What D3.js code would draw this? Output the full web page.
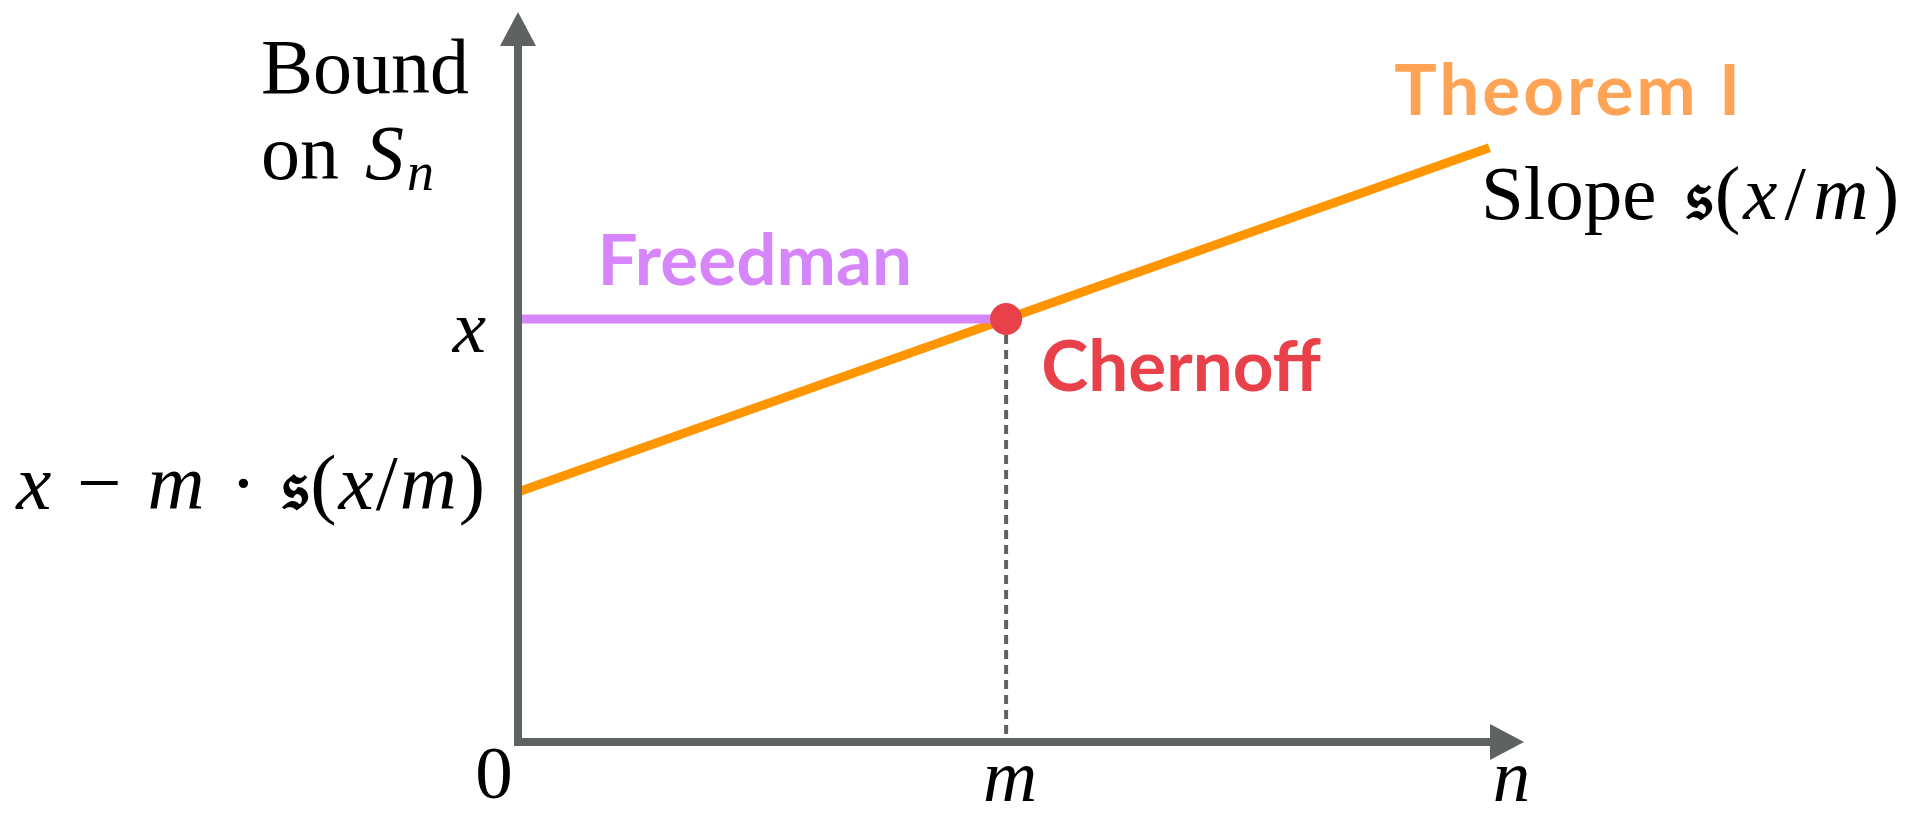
<!DOCTYPE html>
<html>
<head>
<meta charset="utf-8">
<script src="https://cdn.jsdelivr.net/npm/d3@7"></script>
<style>
  html, body { margin: 0; padding: 0; background: #ffffff; overflow: hidden; }
  svg { display: block; }
</style>
</head>
<body>
<svg id="chart" width="1912" height="819"></svg>
<script>
// Quantities are expressed in units where m = 1 and x = 1.
const nExtent = [0, 2.061];          // horizontal axis: number of terms n
const boundExtent = [0, 1.726];      // vertical axis: bound on S_n

const nTickValues = [0, 1, 2.027];
const nTickLabels = ["0", "m", "n"];

const boundTickValues = [1, 0.591];  // x, and x − m·s(x/m)

// Freedman: constant bound x over n in [0, m]
const freedmanN = [0, 1];
const freedmanBound = [1, 1];

// Theorem I: line with intercept x − m·s(x/m) and slope s(x/m)
const theoremN = [0, 1.99];
const theoremBound = [0.591, 1.405];

// Chernoff: the single point (m, x)
const chernoffN = [1];
const chernoffBound = [1];

const C = {
  axis: "#5e6260",
  freedman: "#d686fa",
  theorem: "#ff9500",
  theoremText: "#ffa457",
  chernoff: "#e8414a",
  ink: "#000000"
};

const SERIF = "'Liberation Serif', 'Times New Roman', serif";
const SANS = "Lato, 'Open Sans', sans-serif";
const FRAK_FONT = "'DejaVu Serif', 'DejaVu Sans', serif";
const FRAK = "𝔰";

const svg = d3.select("#chart");

const x = d3.scaleLinear().domain(nExtent).range([518, 1524]);
const y = d3.scaleLinear().domain(boundExtent).range([742, 12]);

const line = d3.line().x(d => x(d[0])).y(d => y(d[1]));

// Theorem I line
svg.append("path")
  .datum(d3.zip(theoremN, theoremBound))
  .attr("d", line)
  .attr("fill", "none")
  .attr("stroke", C.theorem)
  .attr("stroke-width", 9);

// Freedman line
svg.append("path")
  .datum(d3.zip(freedmanN, freedmanBound))
  .attr("d", line)
  .attr("fill", "none")
  .attr("stroke", C.freedman)
  .attr("stroke-width", 9);

// Dashed drop line from the Chernoff point to the n axis
svg.append("line")
  .attr("x1", x(chernoffN[0])).attr("x2", x(chernoffN[0]))
  .attr("y1", y(chernoffBound[0]) + 16).attr("y2", y(0))
  .attr("stroke", C.axis)
  .attr("stroke-width", 4)
  .attr("stroke-dasharray", "9,6");

// Chernoff point
svg.selectAll("circle.chernoff")
  .data(d3.zip(chernoffN, chernoffBound))
  .join("circle")
  .attr("class", "chernoff")
  .attr("cx", d => x(d[0]))
  .attr("cy", d => y(d[1]))
  .attr("r", 16)
  .attr("fill", C.chernoff);

// Axes with arrowheads
const head = 34, half = 18;
const axes = svg.append("g");
axes.append("line")
  .attr("x1", x(0)).attr("y1", y(0) + 4)
  .attr("x2", x(0)).attr("y2", y(boundExtent[1]) + head - 2)
  .attr("stroke", C.axis).attr("stroke-width", 8);
axes.append("path")
  .attr("d", `M${x(0)},${y(boundExtent[1])} L${x(0) - half},${y(boundExtent[1]) + head} L${x(0) + half},${y(boundExtent[1]) + head} Z`)
  .attr("fill", C.axis);
axes.append("line")
  .attr("x1", x(0) - 4).attr("y1", y(0))
  .attr("x2", x(nExtent[1]) - head + 2).attr("y2", y(0))
  .attr("stroke", C.axis).attr("stroke-width", 8);
axes.append("path")
  .attr("d", `M${x(nExtent[1])},${y(0)} L${x(nExtent[1]) - head},${y(0) - half} L${x(nExtent[1]) - head},${y(0) + half} Z`)
  .attr("fill", C.axis);

// Helper: write a run of styled pieces as tspans
function mathText(parent, pieces, attrs) {
  const t = parent.append("text")
    .attr("font-family", SERIF)
    .attr("font-size", 75)
    .attr("fill", C.ink);
  Object.entries(attrs).forEach(([k, v]) => t.attr(k, v));
  pieces.forEach(p => {
    const s = t.append("tspan").text(p.t);
    if (p.i) s.attr("font-style", "italic");
    if (p.f) s.attr("font-family", p.f);
    if (p.w) s.attr("font-weight", p.w);
    if (p.size) s.attr("font-size", p.size);
    if (p.dy) s.attr("dy", p.dy);
    if (p.dx) s.attr("dx", p.dx);
  });
  return t;
}

// n-axis tick labels
nTickValues.forEach((v, i) => {
  mathText(svg, [{ t: nTickLabels[i], i: i > 0 }], {
    x: x(v) + (i === 0 ? -24 : 4),
    y: i === 0 ? 798 : 801,
    "text-anchor": "middle"
  });
});

// Bound-axis tick labels
mathText(svg, [{ t: "x", i: true }], {
  x: x(0) - 32, y: y(boundTickValues[0]) + 33, "text-anchor": "end"
});
mathText(svg, [
  { t: "x", i: true }, { t: " − ", dx: 6 }, { t: "m", i: true, dx: 6 }, { t: " · ", dx: 6 },
  { t: FRAK, f: FRAK_FONT, w: "bold", size: 70, dx: 6 },
  { t: "(", dx: 2 }, { t: "x", i: true, dx: 2 }, { t: "/", dx: 2 }, { t: "m", i: true, dx: 2 }, { t: ")", dx: 2 }
], {
  x: x(0) - 33, y: y(boundTickValues[1]) + 17,
  "font-size": 79, "text-anchor": "end"
});

// Axis title
mathText(svg, [{ t: "Bound" }], { x: 261, y: 93, "font-size": 78 });
mathText(svg, [
  { t: "on" }, { t: "S", i: true, dx: 26 },
  { t: "n", i: true, size: 54, dy: 11, dx: 3 }
], { x: 261, y: 179, "font-size": 78 });

// Series names
svg.append("text")
  .attr("x", x(0.163)).attr("y", 285)
  .attr("font-family", SANS).attr("font-weight", 700).attr("font-size", 71)
  .attr("fill", C.freedman)
  .text("Freedman");

svg.append("text")
  .attr("x", x(1.072)).attr("y", 391)
  .attr("font-family", SANS).attr("font-weight", 700).attr("font-size", 71)
  .attr("fill", C.chernoff)
  .text("Chernoff");

svg.append("text")
  .attr("x", x(1.795)).attr("y", 115)
  .attr("font-family", SANS).attr("font-weight", 700).attr("font-size", 71)
  .attr("fill", C.theoremText)
  .attr("textLength", 346).attr("lengthAdjust", "spacing")
  .text("Theorem I");

mathText(svg, [
  { t: "Slope " },
  { t: FRAK, f: FRAK_FONT, w: "bold", size: 70, dx: 10 },
  { t: "(", dx: 3 }, { t: "x", i: true, dx: 3 }, { t: "/", dx: 7 }, { t: "m", i: true, dx: 7 }, { t: ")", dx: 5 }
], { x: 1481, y: 219, "font-size": 77 });
</script>
</body>
</html>
